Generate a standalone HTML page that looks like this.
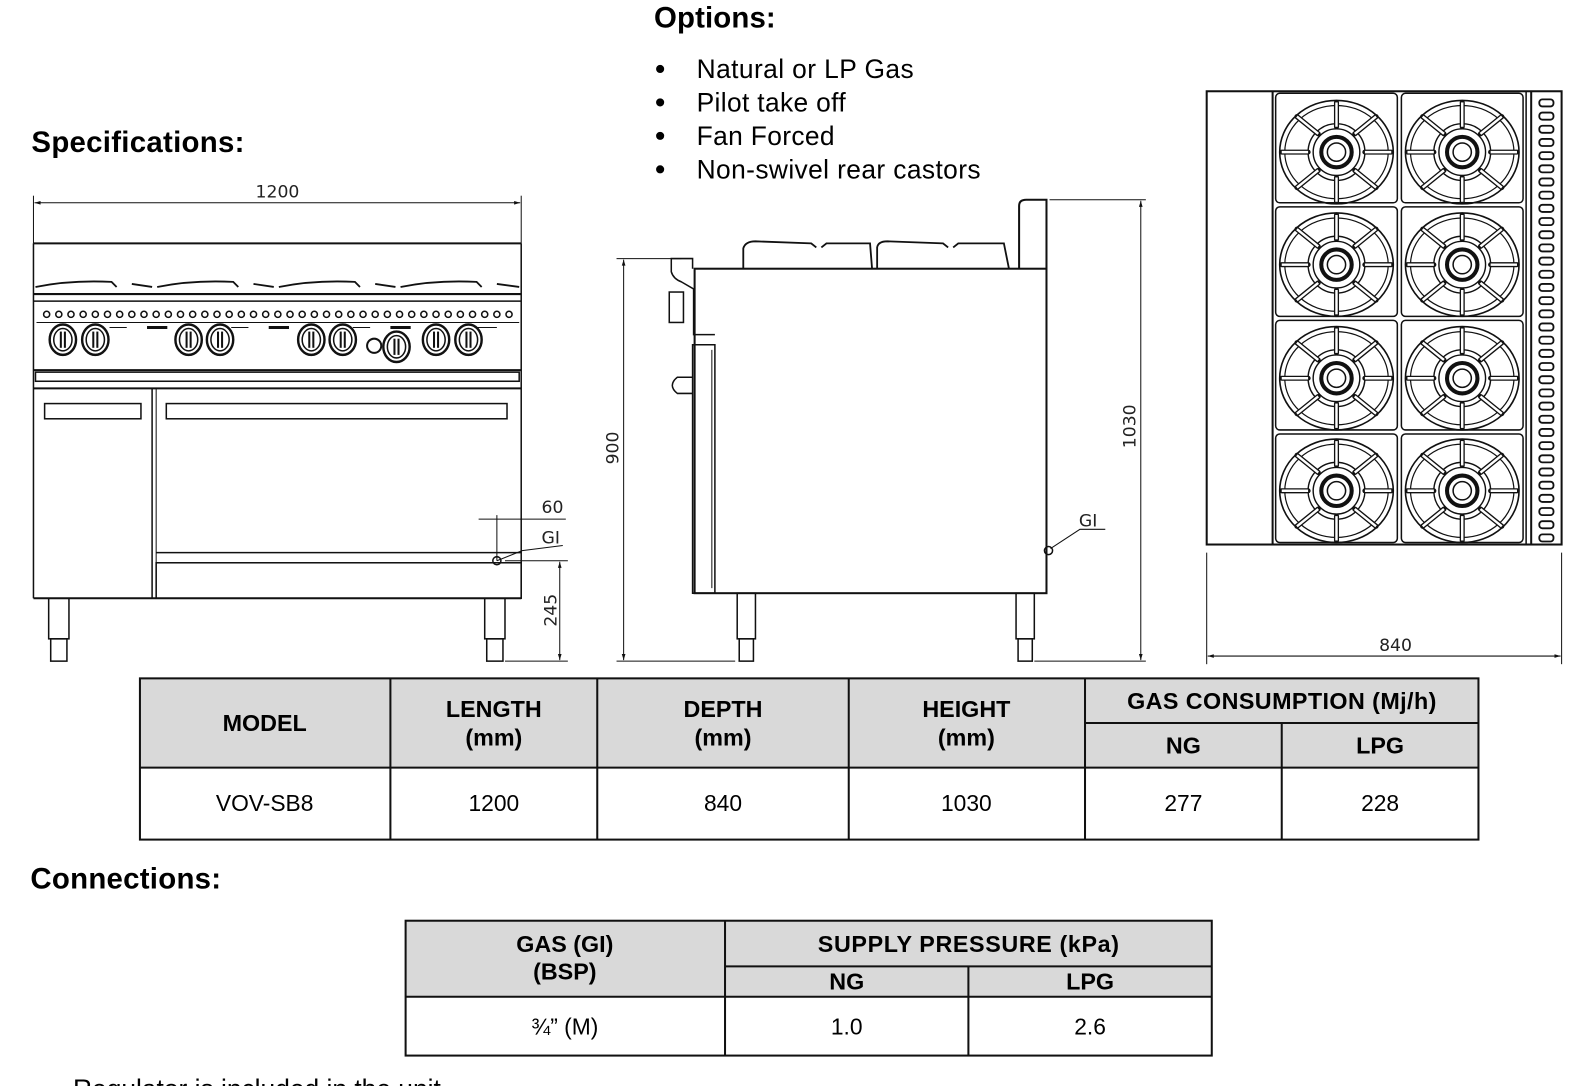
<!DOCTYPE html>
<html><head><meta charset="utf-8"><style>
html,body{margin:0;padding:0;background:#fff;}
svg{display:block;}
text{font-family:"Liberation Sans",Arial,sans-serif;fill:#000;}
.d{font-family:"DejaVu Sans","Liberation Sans",sans-serif;font-size:17px;fill:#222;}
.h{font-weight:bold;font-size:23px;}
.c{font-size:22.5px;}
</style></head><body>
<svg width="1590" height="1086" viewBox="0 0 1568 1071" preserveAspectRatio="none" xmlns="http://www.w3.org/2000/svg">
<defs>
<g id="burner" fill="none" stroke="#111">
<ellipse rx="56" ry="51" stroke-width="1.6"/>
<ellipse rx="51" ry="46" stroke-width="1.2"/>
<circle r="28" stroke-width="1.4"/>
<circle r="23" stroke-width="1.4"/>
<circle r="15" stroke-width="4"/>
<circle r="9" stroke-width="1.5"/>
<g stroke-width="5" stroke-linecap="round"><line x1="0" y1="-25" x2="0" y2="-49"/><line x1="0" y1="25" x2="0" y2="49"/><line x1="-28" y1="0" x2="-54" y2="0"/><line x1="28" y1="0" x2="54" y2="0"/>
<line x1="-18" y1="-18" x2="-39" y2="-35"/><line x1="18" y1="-18" x2="39" y2="-35"/><line x1="-18" y1="18" x2="-39" y2="35"/><line x1="18" y1="18" x2="39" y2="35"/></g>
<g stroke="#fff" stroke-width="2.4"><line x1="0" y1="-25" x2="0" y2="-49"/><line x1="0" y1="25" x2="0" y2="49"/><line x1="-28" y1="0" x2="-54" y2="0"/><line x1="28" y1="0" x2="54" y2="0"/>
<line x1="-18" y1="-18" x2="-39" y2="-35"/><line x1="18" y1="-18" x2="39" y2="-35"/><line x1="-18" y1="18" x2="-39" y2="35"/><line x1="18" y1="18" x2="39" y2="35"/></g>
</g>
<g id="knob" fill="none" stroke="#111"><ellipse rx="13" ry="15" stroke-width="2.4"/><ellipse rx="9" ry="11" stroke-width="1.5"/><line x1="-2" y1="-8" x2="-2" y2="8" stroke-width="2"/><line x1="2" y1="-8" x2="2" y2="8" stroke-width="2"/></g>
<marker id="ar" viewBox="0 0 10 10" refX="10" refY="5" markerWidth="9" markerHeight="6" orient="auto-start-reverse"><path d="M0,2 L10,5 L0,8z" fill="#111"/></marker>
</defs>

<text x="645" y="27" style="font-weight:bold;font-size:29px" textLength="120">Options:</text>
<g style="font-size:26px">
<circle cx="651" cy="68" r="4"/><text x="687" y="77" textLength="214">Natural or LP Gas</text>
<circle cx="651" cy="101" r="4"/><text x="687" y="110" textLength="147">Pilot take off</text>
<circle cx="651" cy="134" r="4"/><text x="687" y="143" textLength="136">Fan Forced</text>
<circle cx="651" cy="167" r="4"/><text x="687" y="176" textLength="280">Non-swivel rear castors</text>
</g>
<text x="31" y="150" style="font-weight:bold;font-size:29px" textLength="210">Specifications:</text>
<text x="30" y="876" style="font-weight:bold;font-size:29px" textLength="188">Connections:</text>

<!-- FRONT VIEW -->
<g fill="none" stroke="#111" stroke-width="1.5">
<line x1="33" y1="193" x2="33" y2="240" stroke-width="1"/><line x1="514" y1="193" x2="514" y2="240" stroke-width="1"/>
<line x1="34" y1="200" x2="513" y2="200" stroke-width="1" marker-start="url(#ar)" marker-end="url(#ar)"/>
<line x1="33" y1="240" x2="514" y2="240" stroke-width="2"/>
<line x1="33" y1="240" x2="33" y2="590"/><line x1="514" y1="240" x2="514" y2="590"/>
<path d="M35,283 Q70,276 110,278 L115,283 M130,280 L150,283 M155,283 Q190,276 230,278 L235,283 M250,280 L270,283 M275,283 Q310,276 350,278 L355,283 M370,280 L390,283 M395,283 Q430,276 470,278 L475,283 M490,280 L512,283" stroke-width="1.8"/>
<line x1="33" y1="290" x2="514" y2="290" stroke-width="2"/>
<line x1="33" y1="297" x2="514" y2="297"/>
<line x1="36" y1="318" x2="512" y2="318" stroke-width="1"/>
<line x1="33" y1="365" x2="514" y2="365" stroke-width="2"/>
<rect x="35" y="367" width="477" height="9"/>
<line x1="33" y1="383" x2="514" y2="383" stroke-width="2"/>
<line x1="150" y1="383" x2="150" y2="590"/><line x1="154" y1="383" x2="154" y2="590" stroke-width="1"/>
<rect x="44" y="398" width="95" height="15"/><rect x="164" y="398" width="336" height="15"/>
<line x1="154" y1="545" x2="514" y2="545"/>
<rect x="154" y="555" width="360" height="35"/>
<line x1="33" y1="590" x2="514" y2="590" stroke-width="2"/>
<rect x="48" y="590" width="20" height="40"/><rect x="50" y="630" width="16" height="22"/>
<rect x="478" y="590" width="20" height="40"/><rect x="480" y="630" width="16" height="22"/>
<line x1="490" y1="508" x2="490" y2="553" stroke-width="1"/>
<line x1="472" y1="512" x2="558" y2="512" stroke-width="1"/>
<path d="M490,553 L515,543 L555,538" stroke-width="1"/>
<circle cx="490" cy="553" r="4"/>
<line x1="498" y1="553" x2="560" y2="553" stroke-width="1"/>
<line x1="498" y1="652" x2="560" y2="652" stroke-width="1"/>
<line x1="552" y1="554" x2="552" y2="651" stroke-width="1" marker-start="url(#ar)" marker-end="url(#ar)"/>
</g>
<g fill="none" stroke="#111" stroke-width="1.5">
<circle cx="46" cy="310" r="3"/><circle cx="58" cy="310" r="3"/><circle cx="70" cy="310" r="3"/><circle cx="82" cy="310" r="3"/><circle cx="94" cy="310" r="3"/><circle cx="106" cy="310" r="3"/><circle cx="118" cy="310" r="3"/><circle cx="130" cy="310" r="3"/><circle cx="142" cy="310" r="3"/><circle cx="154" cy="310" r="3"/><circle cx="166" cy="310" r="3"/><circle cx="178" cy="310" r="3"/><circle cx="190" cy="310" r="3"/><circle cx="202" cy="310" r="3"/><circle cx="214" cy="310" r="3"/><circle cx="226" cy="310" r="3"/><circle cx="238" cy="310" r="3"/><circle cx="250" cy="310" r="3"/><circle cx="262" cy="310" r="3"/><circle cx="274" cy="310" r="3"/><circle cx="286" cy="310" r="3"/><circle cx="298" cy="310" r="3"/><circle cx="310" cy="310" r="3"/><circle cx="322" cy="310" r="3"/><circle cx="334" cy="310" r="3"/><circle cx="346" cy="310" r="3"/><circle cx="358" cy="310" r="3"/><circle cx="370" cy="310" r="3"/><circle cx="382" cy="310" r="3"/><circle cx="394" cy="310" r="3"/><circle cx="406" cy="310" r="3"/><circle cx="418" cy="310" r="3"/><circle cx="430" cy="310" r="3"/><circle cx="442" cy="310" r="3"/><circle cx="454" cy="310" r="3"/><circle cx="466" cy="310" r="3"/><circle cx="478" cy="310" r="3"/><circle cx="490" cy="310" r="3"/><circle cx="502" cy="310" r="3"/>
</g>
<g stroke="#111" stroke-width="3"><line x1="145" y1="323" x2="165" y2="323"/><line x1="265" y1="323" x2="285" y2="323"/><line x1="385" y1="323" x2="405" y2="323"/><line x1="108" y1="323" x2="125" y2="323" stroke-width="1"/><line x1="228" y1="323" x2="245" y2="323" stroke-width="1"/><line x1="348" y1="323" x2="365" y2="323" stroke-width="1"/><line x1="468" y1="323" x2="490" y2="323" stroke-width="1"/></g>
<use href="#knob" x="62" y="335"/><use href="#knob" x="94" y="335"/>
<use href="#knob" x="186" y="335"/><use href="#knob" x="217" y="335"/>
<use href="#knob" x="307" y="335"/><use href="#knob" x="338" y="335"/>
<circle cx="369" cy="341" r="7" fill="none" stroke="#111" stroke-width="2"/>
<use href="#knob" x="391" y="342"/>
<use href="#knob" x="430" y="335"/><use href="#knob" x="462" y="335"/>
<text class="d" x="252" y="195">1200</text>
<text class="d" x="534" y="506">60</text>
<text class="d" x="534" y="536">GI</text>
<text class="d" transform="translate(549,618) rotate(-90)">245</text>

<!-- SIDE VIEW -->
<g fill="none" stroke="#111" stroke-width="1.5">
<rect x="685" y="265" width="347" height="320" stroke-width="2"/>
<path d="M1005,265 L1005,203 Q1005,197 1012,197 L1032,197 L1032,265" stroke-width="2"/>
<path d="M733,265 L733,245 Q735,238 745,238 L800,240 L805,244 M810,244 L815,240 L858,240 L860,265 M865,265 L865,244 Q866,238 875,238 L930,240 L935,244 M940,244 L945,240 L990,240 L995,265" stroke-width="1.8"/>
<path d="M683,265 L683,255 L662,255 L662,268 Q664,275 672,278 L684,285 L684,330 L705,330"/>
<rect x="660" y="288" width="14" height="30"/>
<path d="M683,340 L705,340 L705,585 L683,585 Z"/>
<line x1="702" y1="345" x2="702" y2="580" stroke-width="1"/>
<path d="M683,372 L668,372 Q658,380 668,388 L683,388"/>
<rect x="727" y="585" width="18" height="45"/><rect x="729" y="630" width="14" height="22"/>
<rect x="1002" y="585" width="18" height="45"/><rect x="1004" y="630" width="14" height="22"/>
<circle cx="1034" cy="543" r="4"/>
<path d="M1036,541 L1065,522 L1090,522" stroke-width="1"/>
<line x1="608" y1="255" x2="672" y2="255" stroke-width="1"/>
<line x1="608" y1="652" x2="725" y2="652" stroke-width="1"/>
<line x1="615" y1="256" x2="615" y2="651" stroke-width="1" marker-start="url(#ar)" marker-end="url(#ar)"/>
<line x1="1035" y1="197" x2="1130" y2="197" stroke-width="1"/>
<line x1="1020" y1="652" x2="1130" y2="652" stroke-width="1"/>
<line x1="1125" y1="198" x2="1125" y2="651" stroke-width="1" marker-start="url(#ar)" marker-end="url(#ar)"/>
</g>
<text class="d" transform="translate(610,458) rotate(-90)">900</text>
<text class="d" transform="translate(1120,442) rotate(-90)">1030</text>
<text class="d" x="1064" y="519">GI</text>

<!-- PLAN VIEW -->
<g fill="none" stroke="#111" stroke-width="1.5">
<rect x="1190" y="90" width="350" height="447" stroke-width="2"/>
<line x1="1255" y1="90" x2="1255" y2="537" stroke-width="2"/>
<line x1="1505" y1="90" x2="1505" y2="537"/><line x1="1510" y1="90" x2="1510" y2="537" stroke-width="2"/>
<rect x="1258" y="92" width="120" height="108" rx="4"/><rect x="1382" y="92" width="120" height="108" rx="4"/>
<rect x="1258" y="204" width="120" height="108" rx="4"/><rect x="1382" y="204" width="120" height="108" rx="4"/>
<rect x="1258" y="316" width="120" height="108" rx="4"/><rect x="1382" y="316" width="120" height="108" rx="4"/>
<rect x="1258" y="428" width="120" height="107" rx="4"/><rect x="1382" y="428" width="120" height="107" rx="4"/>
<line x1="1190" y1="545" x2="1190" y2="655" stroke-width="1"/><line x1="1540" y1="545" x2="1540" y2="655" stroke-width="1"/>
<line x1="1191" y1="647" x2="1539" y2="647" stroke-width="1" marker-start="url(#ar)" marker-end="url(#ar)"/>
</g>
<g fill="none" stroke="#111" stroke-width="1.8">
<rect x="1518" y="98" width="14" height="7" rx="3"/><rect x="1518" y="111" width="14" height="7" rx="3"/><rect x="1518" y="124" width="14" height="7" rx="3"/><rect x="1518" y="137" width="14" height="7" rx="3"/><rect x="1518" y="150" width="14" height="7" rx="3"/><rect x="1518" y="163" width="14" height="7" rx="3"/><rect x="1518" y="176" width="14" height="7" rx="3"/><rect x="1518" y="189" width="14" height="7" rx="3"/><rect x="1518" y="202" width="14" height="7" rx="3"/><rect x="1518" y="215" width="14" height="7" rx="3"/><rect x="1518" y="228" width="14" height="7" rx="3"/><rect x="1518" y="241" width="14" height="7" rx="3"/><rect x="1518" y="254" width="14" height="7" rx="3"/><rect x="1518" y="267" width="14" height="7" rx="3"/><rect x="1518" y="280" width="14" height="7" rx="3"/><rect x="1518" y="293" width="14" height="7" rx="3"/><rect x="1518" y="306" width="14" height="7" rx="3"/><rect x="1518" y="319" width="14" height="7" rx="3"/><rect x="1518" y="332" width="14" height="7" rx="3"/><rect x="1518" y="345" width="14" height="7" rx="3"/><rect x="1518" y="358" width="14" height="7" rx="3"/><rect x="1518" y="371" width="14" height="7" rx="3"/><rect x="1518" y="384" width="14" height="7" rx="3"/><rect x="1518" y="397" width="14" height="7" rx="3"/><rect x="1518" y="410" width="14" height="7" rx="3"/><rect x="1518" y="423" width="14" height="7" rx="3"/><rect x="1518" y="436" width="14" height="7" rx="3"/><rect x="1518" y="449" width="14" height="7" rx="3"/><rect x="1518" y="462" width="14" height="7" rx="3"/><rect x="1518" y="475" width="14" height="7" rx="3"/><rect x="1518" y="488" width="14" height="7" rx="3"/><rect x="1518" y="501" width="14" height="7" rx="3"/><rect x="1518" y="514" width="14" height="7" rx="3"/><rect x="1518" y="527" width="14" height="7" rx="3"/>
</g>
<use href="#burner" x="1318" y="150"/><use href="#burner" x="1442" y="150"/>
<use href="#burner" x="1318" y="261"/><use href="#burner" x="1442" y="261"/>
<use href="#burner" x="1318" y="373"/><use href="#burner" x="1442" y="373"/>
<use href="#burner" x="1318" y="484"/><use href="#burner" x="1442" y="484"/>
<text class="d" x="1360" y="642">840</text>

<!-- TABLE 1 -->
<rect x="138" y="669" width="1320" height="88" fill="#d9d9d9"/>
<g stroke="#111" stroke-width="2" fill="none">
<rect x="138" y="669" width="1320" height="159"/>
<line x1="138" y1="757" x2="1458" y2="757"/>
<line x1="1070" y1="713" x2="1458" y2="713"/>
<line x1="385" y1="669" x2="385" y2="828"/><line x1="589" y1="669" x2="589" y2="828"/><line x1="837" y1="669" x2="837" y2="828"/><line x1="1070" y1="669" x2="1070" y2="828"/><line x1="1264" y1="713" x2="1264" y2="828"/>
</g>
<g text-anchor="middle">
<text class="h" x="261" y="721">MODEL</text>
<text class="h" x="487" y="707">LENGTH</text><text class="h" x="487" y="735">(mm)</text>
<text class="h" x="713" y="707">DEPTH</text><text class="h" x="713" y="735">(mm)</text>
<text class="h" x="953" y="707">HEIGHT</text><text class="h" x="953" y="735">(mm)</text>
<text class="h" x="1264" y="699" textLength="305">GAS CONSUMPTION (Mj/h)</text>
<text class="h" x="1167" y="743">NG</text><text class="h" x="1361" y="743">LPG</text>
<text class="c" x="261" y="800">VOV-SB8</text><text class="c" x="487" y="800">1200</text><text class="c" x="713" y="800">840</text><text class="c" x="953" y="800">1030</text><text class="c" x="1167" y="800">277</text><text class="c" x="1361" y="800">228</text>
</g>

<!-- TABLE 2 -->
<rect x="400" y="908" width="795" height="75" fill="#d9d9d9"/>
<g stroke="#111" stroke-width="2" fill="none">
<rect x="400" y="908" width="795" height="133"/>
<line x1="400" y1="983" x2="1195" y2="983"/>
<line x1="715" y1="953" x2="1195" y2="953"/>
<line x1="715" y1="908" x2="715" y2="1041"/><line x1="955" y1="953" x2="955" y2="1041"/>
</g>
<g text-anchor="middle">
<text class="h" x="557" y="939">GAS (GI)</text><text class="h" x="557" y="966">(BSP)</text>
<text class="h" x="955" y="939" textLength="297">SUPPLY PRESSURE (kPa)</text>
<text class="h" x="835" y="976">NG</text><text class="h" x="1075" y="976">LPG</text>
<text class="c" x="557" y="1020">¾” (M)</text><text class="c" x="835" y="1020">1.0</text><text class="c" x="1075" y="1020">2.6</text>
</g>
<text x="72" y="1083" style="font-size:26px">Regulator is included in the unit</text>
</svg>
</body></html>
